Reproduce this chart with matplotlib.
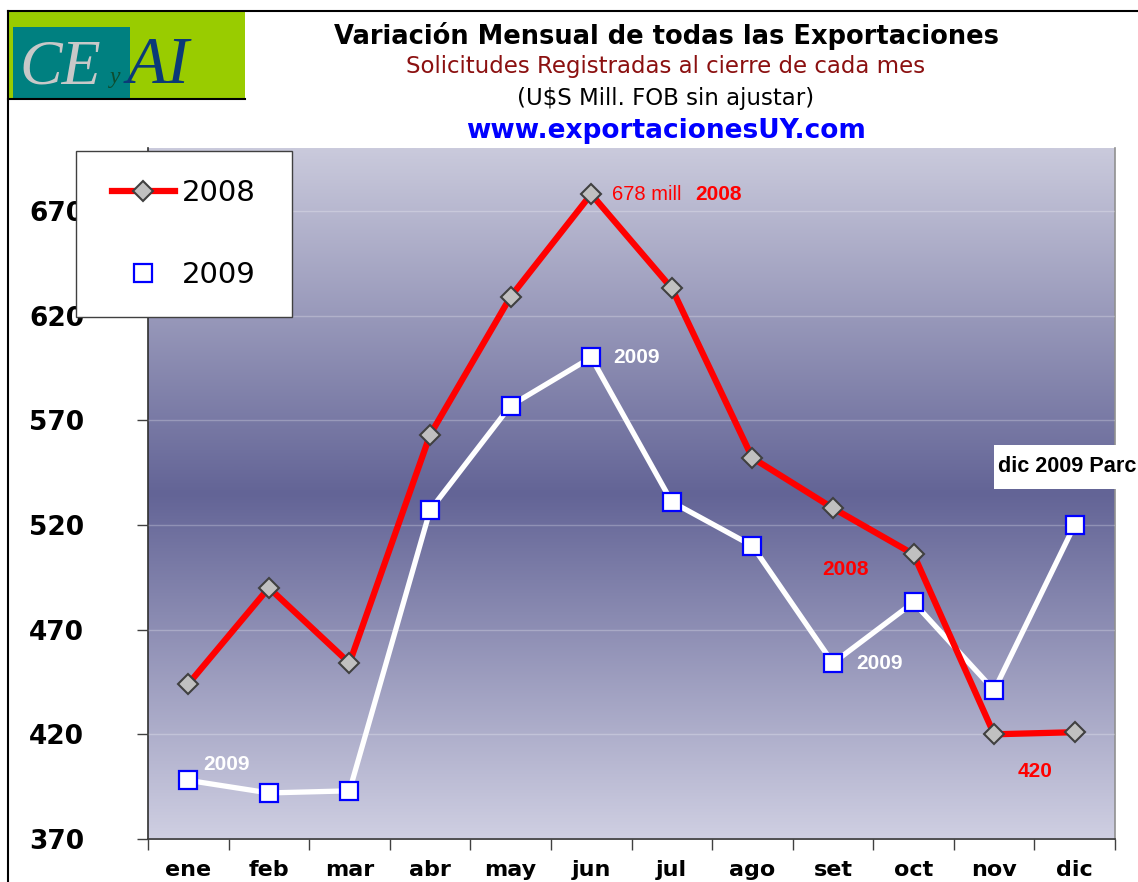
import numpy as np
import matplotlib
matplotlib.use('Agg')
import matplotlib.pyplot as plt
from matplotlib.patches import Rectangle
from matplotlib.lines import Line2D
from matplotlib.colors import LinearSegmentedColormap

months = ['ene', 'feb', 'mar', 'abr', 'may', 'jun', 'jul', 'ago', 'set', 'oct', 'nov', 'dic']
exports_2008 = [444, 490, 454, 563, 629, 678, 633, 552, 528, 506, 420, 421]
exports_2009 = [398, 392, 393, 527, 577, 600, 531, 510, 454, 483, 441, 520]
y_ticks = [370, 420, 470, 520, 570, 620, 670]

W, H = 1138, 882
fig = plt.figure(figsize=(W / 100, H / 100), dpi=100)


def fx(px):
    return px / W


def fy(py):
    return 1 - py / H


ax = fig.add_axes([fx(148), fy(839), fx(1115) - fx(148), fy(148) - fy(839)])
x = np.arange(len(months))

# gradient background
cmap = LinearSegmentedColormap.from_list('bg', [(0, '#cacadc'), (0.5, '#636496'), (1, '#cfcfe2')])
grad = np.linspace(0, 1, 256).reshape(-1, 1)
ax.imshow(grad, cmap=cmap, aspect='auto', extent=(-0.5, len(months) - 0.5, 370, 700), zorder=0)
ax.set_xlim(-0.5, len(months) - 0.5)
ax.set_ylim(370, 700)

ax.set_yticks(y_ticks)
ax.yaxis.grid(True, color='white', alpha=0.25, lw=1)
ax.set_axisbelow(False)
for gl in ax.get_ygridlines():
    gl.set_zorder(1)

ax.plot(x, exports_2009, color='white', lw=3.8, zorder=3)
ax.plot(x, exports_2008, color='#ff0000', lw=4.5, marker='D', ms=10.5, mfc='#c0c0c0',
        mec='#404040', mew=1.5, zorder=4)
ax.plot(x, exports_2009, ls='none', marker='s', ms=13, mfc='white', mec='#0000ff',
        mew=1.6, zorder=5)

# axes styling
ax.set_xticks(x)
ax.set_xticklabels(months, fontsize=16, fontweight='bold', family='DejaVu Sans')
ax.set_xticks(np.arange(-0.5, len(months)), minor=True)
ax.tick_params(axis='x', which='major', length=0, pad=15)
ax.tick_params(axis='x', which='minor', length=8, width=1, color='#404040', direction='out')
ax.tick_params(axis='y', length=8, width=1, color='#404040', direction='out', pad=38)
for lab in ax.get_yticklabels():
    lab.set_fontsize(19)
    lab.set_fontweight('bold')
    lab.set_family('DejaVu Sans')
ax.spines['top'].set_visible(False)
ax.spines['right'].set_color('#909090')
ax.spines['right'].set_linewidth(1.2)
ax.spines['left'].set_color('#303030')
ax.spines['bottom'].set_color('#303030')
ax.spines['left'].set_linewidth(1.2)
ax.spines['bottom'].set_linewidth(1.2)

# data labels
lab_font = dict(family='Liberation Sans', fontsize=15, fontweight='bold')
ax.annotate('678 mill', xy=(5, exports_2008[5]), xytext=(15, 0), textcoords='offset points',
            ha='left', va='center', color='#ff0000', family='Liberation Sans', fontsize=14.5, zorder=6)
ax.annotate('2008', xy=(5, exports_2008[5]), xytext=(75, 0), textcoords='offset points',
            ha='left', va='center', color='#ff0000', zorder=6, **lab_font)
ax.annotate('2009', xy=(5, exports_2009[5]), xytext=(16, 0), textcoords='offset points',
            ha='left', va='center', color='white', zorder=6, **lab_font)
ax.annotate('2009', xy=(0, exports_2009[0]), xytext=(11, 11.5), textcoords='offset points',
            ha='left', va='center', color='white', zorder=6, **lab_font)
ax.annotate('2008', xy=(8, exports_2008[8]), xytext=(9, -44), textcoords='offset points',
            ha='center', va='center', color='#ff0000', zorder=6, **lab_font)
ax.annotate('2009', xy=(8, exports_2009[8]), xytext=(16.5, 0), textcoords='offset points',
            ha='left', va='center', color='white', zorder=6, **lab_font)
ax.annotate('420', xy=(10, exports_2008[10]), xytext=(29.5, -26.6), textcoords='offset points',
            ha='center', va='center', color='#ff0000', zorder=6, **lab_font)
ax.add_patch(Rectangle(((994 - 148) / 967, (839 - 489) / 691), 125 / 967, 44 / 691,
                       transform=ax.transAxes, fc='white', ec='none', zorder=6, clip_on=False))
ax.text((998 - 148) / 967, (839 - 466) / 691, 'dic 2009 Parc', transform=ax.transAxes,
        ha='left', va='center', color='black', family='Liberation Sans', fontsize=15.6,
        fontweight='bold', zorder=7)

# legend
fig.add_artist(Rectangle((fx(76), fy(317)), fx(292) - fx(76), fy(151) - fy(317),
                         transform=fig.transFigure, fc='white', ec='#404040', lw=1, zorder=4))
handles = [
    Line2D([], [], color='#ff0000', lw=4.5, marker='D', ms=10.5, mfc='#c0c0c0', mec='#404040', mew=1.5),
    Line2D([], [], ls='none', marker='s', ms=13, mfc='white', mec='#0000ff', mew=1.6),
]
fig.legend(handles, ['2008', '2009'], loc='center',
           bbox_to_anchor=(fx(76), fy(317), fx(292) - fx(76), fy(151) - fy(317)),
           bbox_transform=fig.transFigure, frameon=False, prop=dict(family='DejaVu Sans', size=21),
           handlelength=2.15, handletextpad=0.25, labelspacing=1.86, borderpad=0)

# titles
cx = fx(666)
fig.text(cx, fy(36), 'Variación Mensual de todas las Exportaciones', ha='center', va='center',
         fontsize=18.5, fontweight='bold', color='black', family='DejaVu Sans')
fig.text(cx, fy(67), 'Solicitudes Registradas al cierre de cada mes', ha='center', va='center',
         fontsize=16.5, color='#8b1010', family='DejaVu Sans')
fig.text(cx, fy(99), '(U$S Mill. FOB sin ajustar)', ha='center', va='center',
         fontsize=16.5, color='black', family='DejaVu Sans')
fig.text(cx, fy(131), 'www.exportacionesUY.com', ha='center', va='center',
         fontsize=19, fontweight='bold', color='#0000ff', family='DejaVu Sans')

# frame lines
fig.add_artist(Line2D([fx(8), 1], [fy(11), fy(11)], transform=fig.transFigure, color='black', lw=1.5))
fig.add_artist(Line2D([fx(8), fx(8)], [fy(11), 0], transform=fig.transFigure, color='black', lw=1.5))

# logo
fig.add_artist(Rectangle((fx(8), fy(99)), fx(245) - fx(8), fy(11) - fy(99),
                         transform=fig.transFigure, fc='#99cc00', ec='none', zorder=1))
fig.add_artist(Rectangle((fx(13), fy(99)), fx(130) - fx(13), fy(27) - fy(99),
                         transform=fig.transFigure, fc='#008080', ec='none', zorder=1))
fig.add_artist(Line2D([fx(8), fx(245)], [fy(99), fy(99)], transform=fig.transFigure, color='black', lw=1.5))
fig.text(fx(19), fy(83), 'CE', ha='left', va='baseline', fontsize=46, style='italic',
         family='Liberation Serif', color='#c8c8c8', zorder=2)
fig.text(fx(110), fy(83), 'y', ha='left', va='baseline', fontsize=17, style='italic',
         family='Liberation Serif', color='#0d4d30', zorder=2)
fig.text(fx(127), fy(83), 'AI', ha='left', va='baseline', fontsize=48, style='italic',
         family='Liberation Serif', color='#0a3a78', zorder=2)

fig.savefig('out.png', dpi=100)
